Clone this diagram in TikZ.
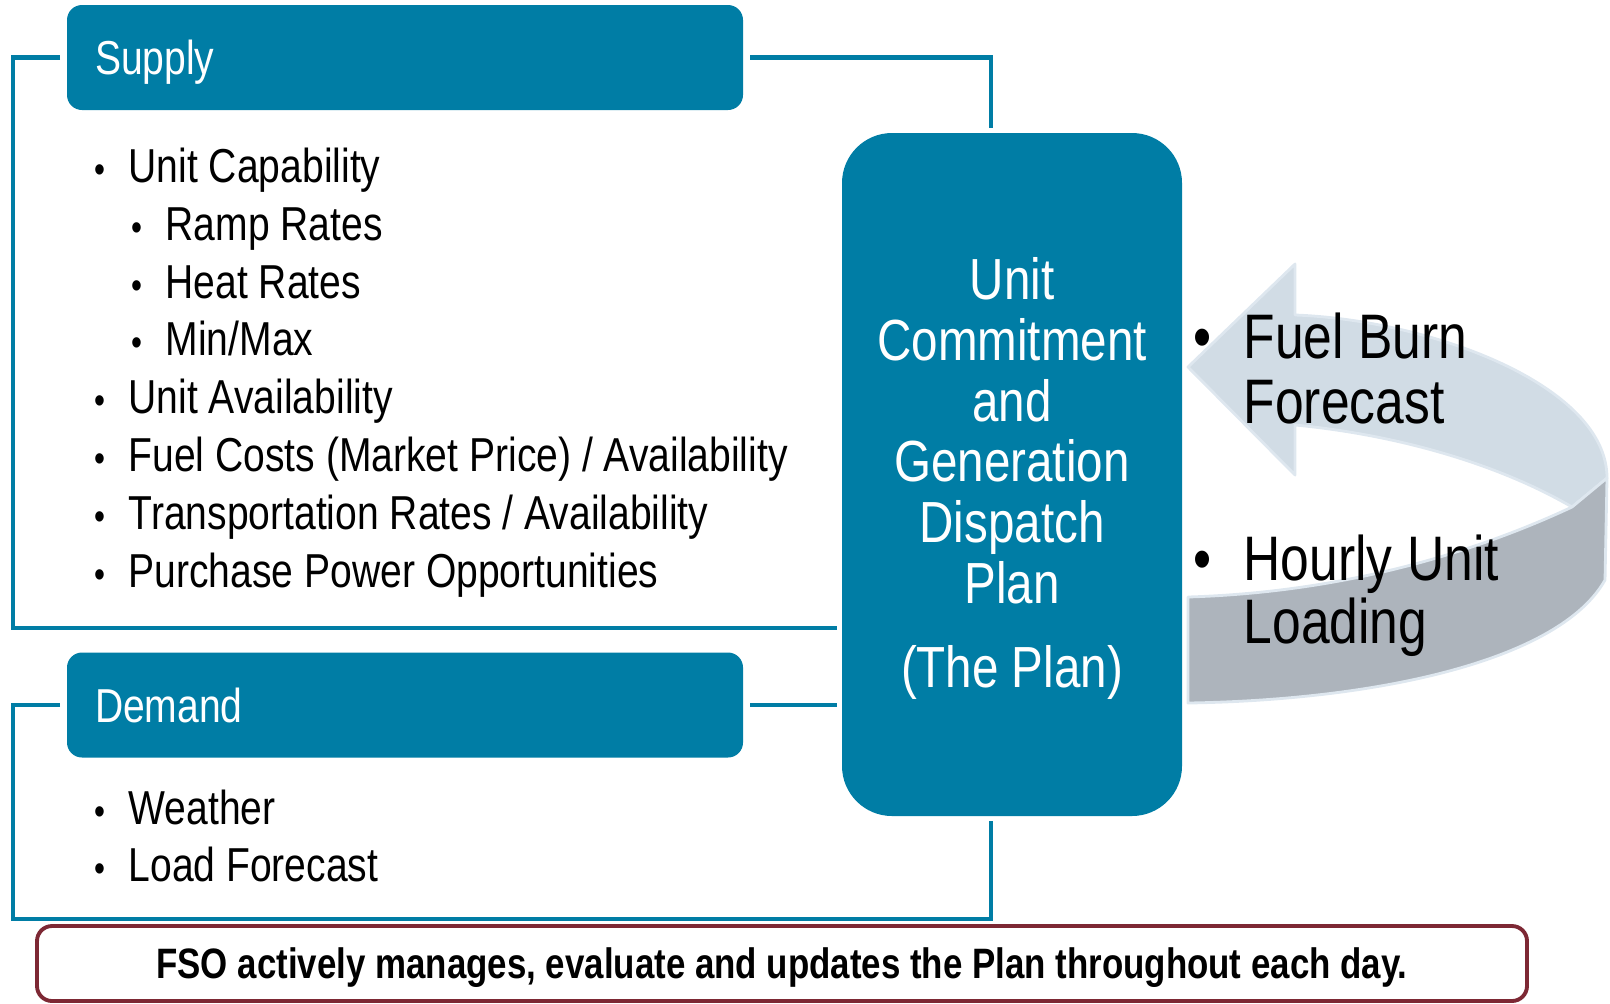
\documentclass[tikz,border=0pt]{standalone}
\usepackage{fontspec}
\setmainfont{Liberation Sans}[FakeStretch=0.82]
\usepackage{tikz}
\usetikzlibrary{calc,positioning}
\definecolor{fsoteal}{RGB}{0,125,165}
\definecolor{fsomaroon}{RGB}{125,40,52}
\definecolor{arrowlight}{RGB}{209,220,229}
\definecolor{arrowdark}{RGB}{173,180,188}
\definecolor{arrowedge}{RGB}{222,231,239}
\newcommand{\fsoitem}[2][0.23cm]{\makebox[0pt][r]{\scalebox{0.8}{\textbullet}\hspace{#1}}#2}
\newcommand{\fsobig}[1]{\makebox[0pt][r]{\textbullet\hspace{0.32cm}}#1}
\newcommand{\listfont}{\fontsize{13.55pt}{16pt}\selectfont}
\newcommand{\planfont}{\fontsize{16.5pt}{17pt}\selectfont}
\newcommand{\loopfont}{\fontsize{17.9pt}{18pt}\selectfont}

\begin{document}
\begin{tikzpicture}[x=0.1mm, y=-0.1mm,
    head/.style={fill=fsoteal, text=white, font=\listfont, rounded corners=0.15cm,
      text width=6.2cm, inner xsep=0.28cm, inner ysep=0pt, align=left,
      minimum height=1.05cm, text height=0.34cm, text depth=0pt, outer sep=0.07cm},
    plan/.style={fill=fsoteal, rounded corners=0.5cm, minimum width=3.4cm,
      minimum height=6.83cm, outer sep=0.05cm},
    note/.style={draw=fsomaroon, line width=1.1pt, fill=white, rounded corners=0.15cm,
      minimum width=14.9cm, minimum height=0.75cm, inner sep=0pt,
      text height=0.30cm, text depth=0pt, font=\fontsize{12.1pt}{13pt}\selectfont\bfseries},
    item/.style={anchor=base west, inner sep=0pt, font=\listfont},
    planline/.style={anchor=base, inner sep=0pt, text=white, font=\planfont},
    loopline/.style={anchor=base west, inner sep=0pt, font=\loopfont},
    link/.style={fsoteal, line width=1.4pt}]
  \useasboundingbox (0,0) rectangle (1610,1003);

  % ===================== boxes =====================
  \node[head] (supply) at (405,57.5) {Supply};
  \node[head] (demand) at (405,705) {Demand};
  \node[plan] (plan) at (1012,474.5) {};
  \node[note] (note) at (782,963.5) {FSO actively manages, evaluate and updates the Plan throughout each day.};

  % ===================== brackets =====================
  \coordinate (supfoot) at (13,628);
  \coordinate (demfoot) at (13,919);
  \coordinate (drop) at (991,0);
  \draw[link] (supply.west) -| (supfoot) -- (plan.west |- supfoot);
  \draw[link] (supply.east) -| (plan.north -| drop);
  \draw[link] (demand.east) -- (demand.east -| plan.west);
  \draw[link] (demand.west) -| (demfoot) -| (plan.south -| drop);

  % ===================== supply / demand items =====================
  \node[item] (cap)   at (128,182.5) {\fsoitem{Unit Capability}};
  \node[item] (ramp)  at (165,240.3) {\fsoitem{Ramp Rates}};
  \node[item] (heat)  at (165,298.1) {\fsoitem{Heat Rates}};
  \node[item] (minmax) at (165,355.9) {\fsoitem{Min/Max}};
  \node[item] (avail) at (128,413.7) {\fsoitem{Unit Availability}};
  \node[item] (fuel)  at (128,471.5) {\fsoitem{Fuel Costs (Market Price) / Availability}};
  \node[item] (trans) at (128,529.3) {\fsoitem{Transportation Rates / Availability}};
  \node[item] (purch) at (128,587.1) {\fsoitem{Purchase Power Opportunities}};
  \node[item] (weather) at (128,824) {\fsoitem{Weather}};
  \node[item] (load)  at (128,881.6) {\fsoitem{Load Forecast}};

  % ===================== the plan =====================
  \node[planline] (p1) at (1012,299) {Unit};
  \node[planline] (p2) at (1012,360) {Commitment};
  \node[planline] (p3) at (1012,421) {and};
  \node[planline] (p4) at (1012,481) {Generation};
  \node[planline] (p5) at (1012,542) {Dispatch};
  \node[planline] (p6) at (1012,603) {Plan};
  \node[planline] (p7) at (1012,687) {(The Plan)};

  % ===================== return arrow =====================
  % light upper face with head
  \filldraw[fill=arrowlight, draw=arrowedge, line width=0.8pt, line join=round]
    (1188,367) -- (1295,264) -- (1295,315)
    .. controls (1430,320) and (1607,385) .. (1607,478) -- (1572,507)
    .. controls (1500,465) and (1400,435) .. (1295,425)
    -- (1295,475) -- cycle;
  % dark lower face
  \filldraw[fill=arrowdark, draw=arrowedge, line width=0.8pt, line join=round]
    (1572,507) .. controls (1480,550) and (1350,592) .. (1188,597)
    -- (1188,703) .. controls (1380,700) and (1560,660) .. (1605,580)
    -- (1607,478) -- cycle;

  \node[loopline] (burn1) at (1243,358) {\fsobig{Fuel Burn}};
  \node[loopline] (burn2) at (1243,423) {Forecast};
  \node[loopline] (hour1) at (1243,580) {\fsobig{Hourly Unit}};
  \node[loopline] (hour2) at (1243,643) {Loading};
\end{tikzpicture}
\end{document}
